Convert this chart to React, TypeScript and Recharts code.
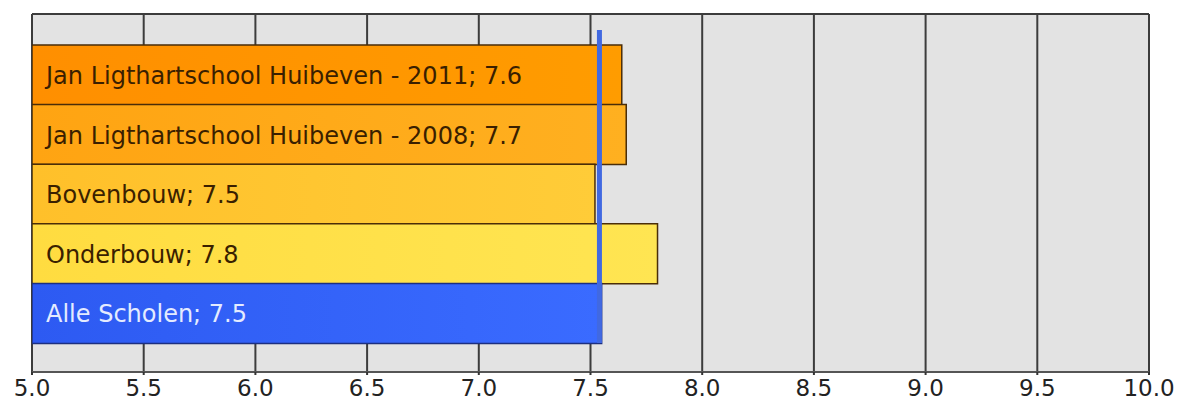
import React from 'react';
import { BarChart, Bar, XAxis, YAxis, CartesianGrid, Cell, LabelList, ReferenceLine } from 'recharts';

const categories = [
  'Jan Ligthartschool Huibeven - 2011',
  'Jan Ligthartschool Huibeven - 2008',
  'Bovenbouw',
  'Onderbouw',
  'Alle Scholen',
];
const scores = [7.64, 7.66, 7.52, 7.8, 7.55];
const scoreLabels = ['7.6', '7.7', '7.5', '7.8', '7.5'];
const average = 7.54;
const xTicks = [5, 5.5, 6, 6.5, 7, 7.5, 8, 8.5, 9, 9.5, 10];

const gradients = [
  ['#ff8f00', '#ff9c00'],
  ['#ffa412', '#ffb020'],
  ['#ffc02a', '#ffcc38'],
  ['#ffdc40', '#ffe552'],
  ['#2d5af2', '#3a6bff'],
];
const textColors = ['#3a1f00', '#3a1f00', '#3a1f00', '#3a1f00', '#e4ebff'];

const data = categories.map((name, i) => ({ name, value: scores[i], label: `${name}; ${scoreLabels[i]}` }));

const font = '"DejaVu Sans", Verdana, sans-serif';

const BarLabel = (props: any) => {
  const { x, y, height, index, value } = props;
  return (
    <text x={x + 14} y={y + height / 2} dy={9} fontSize={24} fontFamily={font} fill={textColors[index]}>
      {value}
    </text>
  );
};

const AverageLine = (p: any) => {
  const top = Math.min(p.y1, p.y2);
  const bottom = Math.max(p.y1, p.y2);
  return <rect x={p.x1 - 2.5} y={top + 16} width={5} height={bottom - top - 45} fill="#4169e1" />;
};

export default function App() {
  return (
    <div style={{ position: 'absolute', left: 0, top: 0, background: '#fff' }}>
      <BarChart
        width={1177}
        height={404}
        data={data}
        layout="vertical"
        margin={{ top: 14, right: 28, bottom: 0, left: 32 }}
        barCategoryGap={0}
      >
        <defs>
          {gradients.map((g, i) => (
            <linearGradient key={i} id={`grad${i}`} x1="0" y1="0" x2="1" y2="0">
              <stop offset="0%" stopColor={g[0]} />
              <stop offset="100%" stopColor={g[1]} />
            </linearGradient>
          ))}
        </defs>
        <CartesianGrid
          fill="#e3e3e3"
          stroke="#3c3c3c"
          strokeWidth={2}
          horizontalCoordinatesGenerator={({ offset }: any) => [offset.top]}
        />
        <XAxis
          type="number"
          domain={[5, 10]}
          ticks={xTicks}
          allowDataOverflow
          tickFormatter={(v: number) => v.toFixed(1)}
          height={32}
          axisLine={{ stroke: '#555', strokeWidth: 2 }}
          tickLine={{ stroke: '#333', strokeWidth: 2 }}
          tickSize={3}
          tickMargin={5}
          tick={{ fontSize: 23, fontFamily: font, fill: '#222' }}
          interval={0}
        />
        <YAxis type="category" dataKey="name" hide padding={{ top: 31, bottom: 29 }} />
        <Bar dataKey="value" isAnimationActive={false} stroke="#4a2d08" strokeWidth={1.5}>
          {data.map((d, i) => (
            <Cell key={d.name} fill={`url(#grad${i})`} stroke={i === 4 ? '#1c2f80' : '#4a2d08'} />
          ))}
          <LabelList dataKey="label" content={BarLabel} />
        </Bar>
        <ReferenceLine x={average} ifOverflow="visible" shape={AverageLine} />
      </BarChart>
    </div>
  );
}
